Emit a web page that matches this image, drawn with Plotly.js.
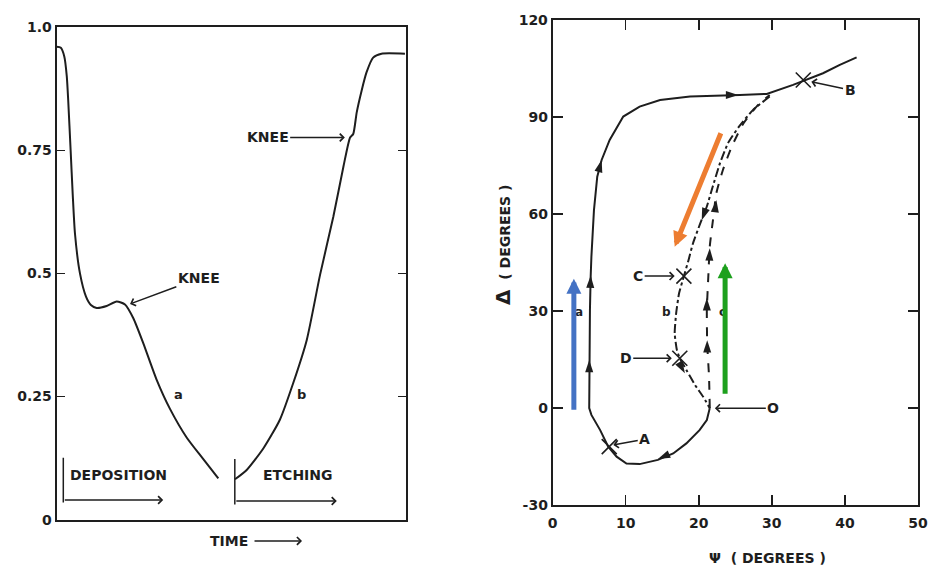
<!DOCTYPE html>
<html><head><meta charset="utf-8">
<script src="https://cdn.plot.ly/plotly-3.0.1.min.js"></script>
<style>html,body{margin:0;padding:0;background:#fff}#chart{width:935px;height:567px}</style>
</head><body><div id="chart"></div>
<script>
// Left panel: reflectance vs time (arbitrary units 0-100)
const timeA=[0,1.2,2.2,2.9,3.3,4.0,4.6,5.24,6.67,8.4,9.8,11.45,14.31,17.18,19.56,21.95,24.81,28.63,32.44,37.21,41.98,46.28];
const reflA=[0.96,0.958,0.94,0.90,0.852,0.75,0.66,0.581,0.50,0.453,0.436,0.430,0.434,0.443,0.437,0.409,0.358,0.284,0.225,0.167,0.123,0.084];
const timeB=[51.05,54.4,59.2,63.9,67.7,71.6,75.4,79.2,82.1,84.0,84.9,85.9,87.3,88.7,90.6,93.0,99.7];
const reflB=[0.082,0.101,0.145,0.203,0.277,0.365,0.497,0.615,0.717,0.776,0.783,0.827,0.871,0.908,0.938,0.946,0.946];
const reflTickVals=[0,0.25,0.5,0.75,1.0];
const reflTickText=['0','0.25','0.5','0.75','1.0'];

// Right panel: Delta vs Psi trajectories
const psiA=[21.5,21.1,20.1,18.3,16.5,14.4,11.9,10.1,8.75,7.6,6.5,5.3,5.0,5.0,5.1,5.2,5.3,5.65,6.1,6.7,7.8,9.66,11.9,14.7,18.8,25.6,29.3,32.9,34.3,37.0,39.3,41.6];
const deltaA=[0,-3.7,-6.8,-10.9,-14.0,-16.0,-17.3,-17.1,-15.0,-11.9,-6.8,-2.1,0,14.9,30.3,40.6,46.8,61.2,71.5,76.7,82.9,90.1,93.2,95.2,96.3,96.8,97.1,99.9,101.2,103.5,106.1,108.4];
const psiB=[29.7,27.4,25.5,24.0,22.9,21.9,21.1,20.2,19.2,18.6,17.96,17.3,16.9,16.7,17.0,17.4,18.3,19.5,20.6,21.5];
const deltaB=[96.3,92.1,87.0,81.9,75.7,68.4,62.3,57.1,50.9,45.8,40.8,35.5,29.3,23.1,18.0,15.4,11.8,7.1,3.5,0];
const psiC=[21.5,21.4,21.15,21.1,21.3,21.5,22.0,22.4,23.3,24.5,26.1,27.9,29.7];
const deltaC=[0,9.7,20.0,30.3,40.6,49.9,59.2,66.4,73.6,80.8,88.0,93.2,96.8];
const crossPsi=[7.74,34.3,17.96,17.4];
const crossDelta=[-11.9,101.4,40.8,15.4];
const dirPsi=[14.4,5.0,5.2,6.7,25.4,20.4,18.1,21.15,21.1,21.5,22.4];
const dirDelta=[-15.7,14.9,41.0,76.7,96.8,58.1,10.8,21,34,49.4,64.3];
const dirAngle=[247,0,2,15,90,200,150,0,0,2,7];
const psiTicks=[0,10,20,30,40,50];
const deltaTicks=[-30,0,30,60,90,120];
const deltaTickText=['-30','0','30','60','90','120'];

const FONT='DejaVu Sans, Liberation Sans, sans-serif';
const INK='#1e1e1e';
const lbl=(s)=>({family:FONT,size:s,color:INK,weight:'bold'});

const traces=[
  {x:timeA,y:reflA,xaxis:'x',yaxis:'y',mode:'lines',line:{color:INK,width:2,shape:'spline',smoothing:0.6},hoverinfo:'skip'},
  {x:timeB,y:reflB,xaxis:'x',yaxis:'y',mode:'lines',line:{color:INK,width:2,shape:'spline',smoothing:0.6},hoverinfo:'skip'},
  {x:psiA,y:deltaA,xaxis:'x2',yaxis:'y2',mode:'lines',line:{color:INK,width:2},hoverinfo:'skip'},
  {x:psiB,y:deltaB,xaxis:'x2',yaxis:'y2',mode:'lines',line:{color:INK,width:2,dash:'dashdot',shape:'spline',smoothing:0.5},hoverinfo:'skip'},
  {x:psiC,y:deltaC,xaxis:'x2',yaxis:'y2',mode:'lines',line:{color:INK,width:2,dash:'dash',shape:'spline',smoothing:0.5},hoverinfo:'skip'},
  {x:crossPsi,y:crossDelta,xaxis:'x2',yaxis:'y2',mode:'markers',marker:{symbol:'x-thin-open',size:15,color:INK,line:{color:INK,width:1.6}},hoverinfo:'skip'},
  {x:dirPsi,y:dirDelta,xaxis:'x2',yaxis:'y2',mode:'markers',marker:{symbol:'arrow',size:13,angle:dirAngle,color:INK,line:{width:0}},hoverinfo:'skip'}
];

function arrowAnn(xr,yr,x,y,ax,ay,text,extra){
  return Object.assign({xref:xr,yref:yr,axref:xr,ayref:yr,x:x,y:y,ax:ax,ay:ay,text:text,showarrow:true,
    arrowhead:4,arrowsize:1,arrowwidth:1.5,arrowcolor:INK,font:lbl(14)},extra||{});
}
function textAnn(xr,yr,x,y,text,size,extra){
  return Object.assign({xref:xr,yref:yr,x:x,y:y,text:text,showarrow:false,font:lbl(size),xanchor:'center',yanchor:'middle'},extra||{});
}

const annotations=[
  arrowAnn('x','y',21.0,0.438,40.7,0.49,'KNEE'),
  arrowAnn('x','y',82.5,0.776,60.4,0.776,'KNEE'),
  textAnn('x','y',34.8,0.255,'a',13),
  textAnn('x','y',70.1,0.255,'b',13),
  textAnn('x','y',17.6,0.09,'DEPOSITION',14),
  textAnn('x','y',69.2,0.09,'ETCHING',14),
  arrowAnn('x','y',30.5,0.04,1.9,0.04,''),
  arrowAnn('x','y',80.2,0.038,51.0,0.038,''),
  textAnn('paper','paper',0.245,0.046,'TIME',14),
  {xref:'paper',yref:'paper',x:0.323,y:0.046,ax:-49,ay:0,text:'',showarrow:true,arrowhead:4,arrowsize:1,arrowwidth:1.5,arrowcolor:INK},
  arrowAnn('x2','y2',8.3,-11.4,12.6,-9.6,'A'),
  arrowAnn('x2','y2',35.4,100.9,40.7,98.3,'B'),
  arrowAnn('x2','y2',16.7,40.8,11.7,40.8,'C'),
  arrowAnn('x2','y2',16.3,15.4,10.0,15.4,'D'),
  arrowAnn('x2','y2',22.2,0,30.2,0,'O'),
  textAnn('x2','y2',3.64,29.8,'a',12),
  textAnn('x2','y2',15.6,29.8,'b',12),
  textAnn('x2','y2',23.3,29.8,'c',12),
  arrowAnn('x2','y2',2.9,40,2.9,-1,'',{arrowhead:2,arrowsize:0.6,arrowwidth:5,arrowcolor:'#4472C4'}),
  arrowAnn('x2','y2',23.6,44.8,23.6,4,'',{arrowhead:2,arrowsize:0.6,arrowwidth:5,arrowcolor:'#1DA01D'}),
  arrowAnn('x2','y2',16.7,49.9,23.1,85.4,'',{arrowhead:2,arrowsize:0.6,arrowwidth:5,arrowcolor:'#ED7D31'}),
  textAnn('paper','paper',0.821,0.016,'Ψ  ( DEGREES )',14),
  textAnn('paper','paper',0.538,0.568,'<span style="font-size:20px">Δ</span>  ( DEGREES )',14,{textangle:-90})
];

const shapes=[
  {type:'line',xref:'x',yref:'y',x0:1.9,x1:1.9,y0:0.035,y1:0.126,line:{color:INK,width:1.5}},
  {type:'line',xref:'x',yref:'y',x0:51.0,x1:51.0,y0:0.031,y1:0.123,line:{color:INK,width:1.5}}
];

const axBase={showgrid:false,zeroline:false,showline:true,linecolor:INK,linewidth:2,mirror:'ticks',
  ticks:'inside',tickcolor:INK,tickwidth:1.5,tickfont:lbl(14),fixedrange:true};

const layout={
  width:935,height:567,margin:{l:0,r:0,t:0,b:0},paper_bgcolor:'#fff',plot_bgcolor:'#fff',showlegend:false,
  xaxis:Object.assign({},axBase,{domain:[0.0606,0.4342],range:[0,100],showticklabels:false,ticks:'',mirror:true}),
  yaxis:Object.assign({},axBase,{domain:[0.0834,0.9522],range:[0,1],tickvals:reflTickVals,ticktext:reflTickText,ticklen:8}),
  xaxis2:Object.assign({},axBase,{domain:[0.5911,0.9818],range:[0,50],tickvals:psiTicks,ticklen:10,anchor:'y2',ticklabelstandoff:4}),
  yaxis2:Object.assign({},axBase,{domain:[0.109,0.965],range:[-30,120],tickvals:deltaTicks,ticktext:deltaTickText,ticklen:10,anchor:'x2'}),
  annotations:annotations,shapes:shapes
};
Plotly.newPlot('chart',traces,layout,{staticPlot:true,displayModeBar:false});
</script></body></html>
